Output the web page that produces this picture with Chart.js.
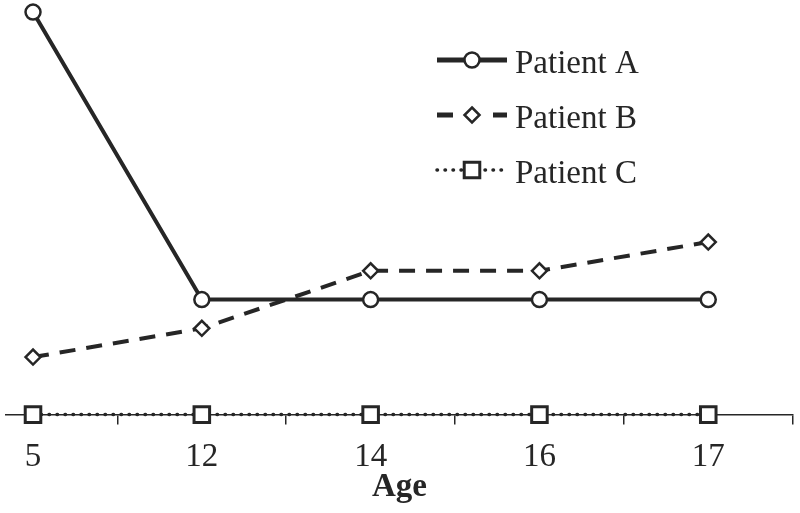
<!DOCTYPE html>
<html>
<head>
<meta charset="utf-8">
<script src="https://cdn.jsdelivr.net/npm/chart.js@4.4.1/dist/chart.umd.min.js"></script>
<style>
  html, body { margin: 0; padding: 0; background: #fff; }
  #wrap { width: 800px; height: 513px; position: relative; }
</style>
</head>
<body>
<div id="wrap"><canvas id="ageChart"></canvas></div>
<script>
const ages = ['5', '12', '14', '16', '17'];
const patientA = [14, 4, 4, 4, 4];
const patientB = [2, 3, 5, 5, 6];
const patientC = [0, 0, 0, 0, 0];
const seriesNames = ['Patient A', 'Patient B', 'Patient C'];

const INK = '#262626';
const SERIF = '"Liberation Serif", "DejaVu Serif", serif';

// x is the age's index, so the axis can start a bit before the first point like the original
const toPoints = vals => vals.map((v, i) => ({ x: i, y: v }));

// legend sample dashes (B shows one dash each side of the marker)
const legendDash = [[], [16, 40], [0.5, 7.5]];

function drawMarker(ctx, style, x, y, r) {
    ctx.beginPath();
    if (style === 'circle') {
        ctx.arc(x, y, r, 0, Math.PI * 2);
    } else if (style === 'rectRot') {
        ctx.moveTo(x, y - r); ctx.lineTo(x + r, y); ctx.lineTo(x, y + r); ctx.lineTo(x - r, y); ctx.closePath();
    } else {
        const h = r * Math.SQRT1_2;
        ctx.rect(x - h, y - h, 2 * h, 2 * h);
    }
    ctx.fill();
    ctx.stroke();
}

// legend sits inside the plot, top right
const insideLegend = {
    id: 'insideLegend',
    afterDraw(chart) {
        const ctx = chart.ctx;
        chart.data.datasets.forEach((ds, i) => {
            const y = 60 + i * 55;
            ctx.save();
            ctx.strokeStyle = ds.borderColor;
            ctx.lineWidth = i === 2 ? ds.borderWidth : 5;
            ctx.lineCap = ds.borderCapStyle || 'butt';
            ctx.setLineDash(legendDash[i]);
            ctx.beginPath(); ctx.moveTo(437, y); ctx.lineTo(507, y); ctx.stroke();
            ctx.setLineDash([]);
            ctx.fillStyle = '#fff';
            ctx.lineWidth = ds.pointBorderWidth;
            drawMarker(ctx, ds.pointStyle, 472, y, ds.pointRadius);
            ctx.fillStyle = INK;
            ctx.font = '33px ' + SERIF;
            ctx.textBaseline = 'middle';
            ctx.fillText(ds.label, 515, y + 4);
            ctx.restore();
        });
    }
};

new Chart(document.getElementById('ageChart'), {
    type: 'line',
    data: {
        datasets: [
            { label: seriesNames[0], data: toPoints(patientA), borderColor: INK, borderWidth: 4,
              pointStyle: 'circle', pointRadius: 7.5, pointBorderWidth: 2.5, pointBackgroundColor: '#fff', pointBorderColor: INK, clip: false },
            { label: seriesNames[1], data: toPoints(patientB), borderColor: INK, borderWidth: 4, borderDash: [16, 11],
              pointStyle: 'rectRot', pointRadius: 7.5, pointBorderWidth: 2.5, pointBackgroundColor: '#fff', pointBorderColor: INK, clip: false },
            { label: seriesNames[2], data: toPoints(patientC), borderColor: INK, borderWidth: 3.5, borderDash: [0.5, 7.5], borderCapStyle: 'round',
              pointStyle: 'rect', pointRadius: 11, pointBorderWidth: 3, pointBackgroundColor: '#fff', pointBorderColor: INK, clip: false }
        ]
    },
    options: {
        responsive: true, maintainAspectRatio: false, animation: false,
        layout: { autoPadding: false, padding: { left: 6, right: 7, top: 0, bottom: 0 } },
        plugins: { legend: { display: false }, tooltip: { enabled: false } },
        scales: {
            x: {
                type: 'linear', min: -0.16, max: 4.502,
                afterBuildTicks: s => { s.ticks = ages.map((_, i) => ({ value: i })); },
                ticks: { callback: v => ages[v], color: INK, font: { family: SERIF, size: 33, lineHeight: 0.9 },
                         padding: 17.5, maxRotation: 0, autoSkip: false },
                grid: { offset: true, drawOnChartArea: false, drawTicks: true, tickLength: 10, color: INK, lineWidth: 1.5 },
                border: { display: true, color: INK, width: 1.5 },
                // tick padding is reserved twice by chart.js, the negative top padding pulls the title back up
                title: { display: true, text: 'Age', color: INK,
                         font: { family: SERIF, size: 33, weight: 'bold', lineHeight: 0.9 }, padding: { top: -17, bottom: 11 } }
            },
            y: { display: false, min: 0, max: 14.42 }
        }
    },
    plugins: [insideLegend]
});
</script>
</body>
</html>
